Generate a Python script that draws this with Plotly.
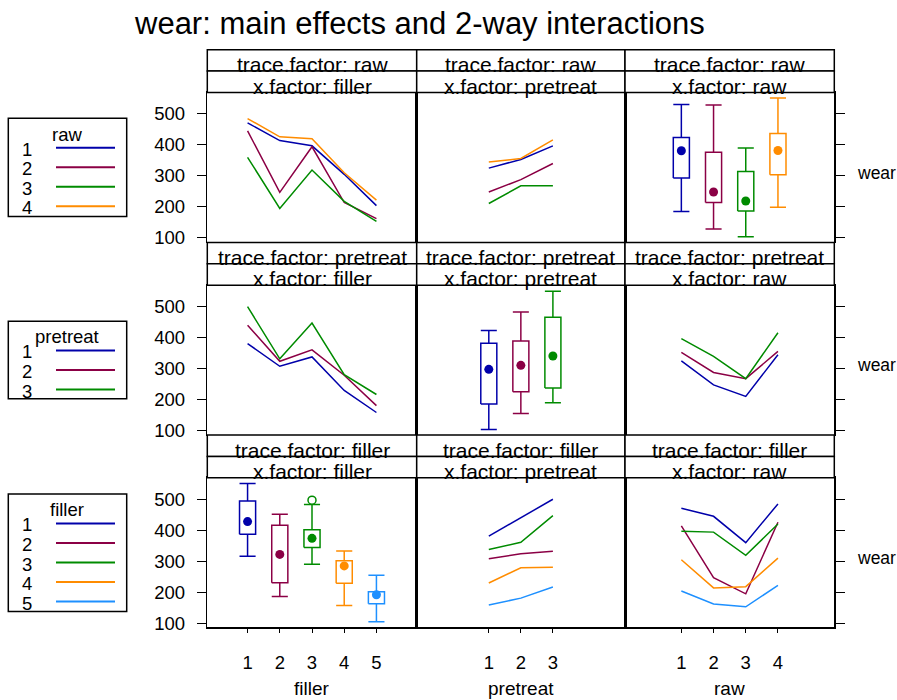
import plotly.graph_objects as go

W, H = 897, 700
FONT = "Liberation Sans, Arial, sans-serif"

# ---------------- data ----------------
title_text = "wear: main effects and 2-way interactions"
response = "wear"
row_factors = ["raw", "pretreat", "filler"]      # trace factor per row
col_factors = ["filler", "pretreat", "raw"]      # x factor per column
filler_levels = ["1", "2", "3", "4", "5"]
pretreat_levels = ["1", "2", "3"]
raw_levels = ["1", "2", "3", "4"]

level_colors = ["#0000AA", "#8B0045", "#008B00", "#FF8C00", "#1E90FF"]

# two-way cell means (rows = first factor levels, cols = second factor levels)
raw_by_filler = [
    [471, 414, 397, 305, 204],
    [445, 247, 394, 214, 162],
    [360, 195, 319, 218, 153],
    [485, 426, 420, 310, 222],
]
raw_by_pretreat = [
    [325, 353, 397],
    [248, 288, 340],
    [211, 268, 268],
    [345, 356, 416],
]
pretreat_by_filler = [
    [381, 308, 338, 230, 159],
    [440, 324, 361, 279, 181],
    [500, 332, 447, 281, 217],
]

# box plot statistics (main effects)
raw_whisker_lo = [185, 129, 104, 199]
raw_q1 = [293, 214, 187, 304]
raw_median = [381, 248, 219, 382]
raw_q3 = [424, 376, 314, 437]
raw_whisker_hi = [530, 529, 390, 551]

pretreat_whisker_lo = [104, 156, 190]
pretreat_q1 = [186, 226, 238]
pretreat_median = [298, 311, 341]
pretreat_q3 = [382, 389, 466]
pretreat_whisker_hi = [423, 483, 550]

filler_whisker_lo = [316, 186, 290, 157, 105]
filler_q1 = [387, 231, 344, 229, 163]
filler_median = [428, 322, 374, 285, 192]
filler_q3 = [494, 416, 402, 302, 202]
filler_whisker_hi = [551, 452, 483, 333, 255]
filler_outlier_level = [3]
filler_outlier_value = [497]

y_ticks = [100, 200, 300, 400, 500]

# ---------------- helpers ----------------
levels = {"filler": filler_levels, "pretreat": pretreat_levels, "raw": raw_levels}
tables = {
    ("raw", "filler"): raw_by_filler,
    ("raw", "pretreat"): raw_by_pretreat,
    ("pretreat", "filler"): pretreat_by_filler,
}
boxstats = {
    "raw": (raw_whisker_lo, raw_q1, raw_median, raw_q3, raw_whisker_hi),
    "pretreat": (pretreat_whisker_lo, pretreat_q1, pretreat_median, pretreat_q3, pretreat_whisker_hi),
    "filler": (filler_whisker_lo, filler_q1, filler_median, filler_q3, filler_whisker_hi),
}


def table_for(trace_f, x_f):
    if (trace_f, x_f) in tables:
        return tables[(trace_f, x_f)]
    t = tables[(x_f, trace_f)]
    return [list(col) for col in zip(*t)]


# geometry (pixels)
col_px = [(207.3, 416.7), (416.7, 625.0), (625.0, 834.3)]
row_px = [(93.3, 244.0), (287.7, 438.6), (482.0, 632.7)]
strip_h = 21.6
y_range = [87, 569]
half_span = 3.25
box_hw = 0.25


def px_x(p):
    return p / W


def px_y(p):
    return 1 - p / H


fig = go.Figure()
layout = dict(
    width=W, height=H, autosize=False,
    margin=dict(l=0, r=0, t=0, b=0),
    paper_bgcolor="white", plot_bgcolor="white",
    showlegend=False,
    font=dict(family=FONT, color="black"),
)
shapes = []
annotations = []

for r, tf in enumerate(row_factors):
    for c, xf in enumerate(col_factors):
        k = r * 3 + c + 1
        xs = "" if k == 1 else str(k)
        xref, yref = "x" + xs, "y" + xs
        n = len(levels[xf])
        ctr = (n + 1) / 2
        xpos = list(range(1, n + 1))

        if tf == xf:
            lo, q1, med, q3, hi = boxstats[xf]
            for i in range(n):
                col = level_colors[i]
                x = xpos[i]
                bx = [x - box_hw, x + box_hw, x + box_hw, x - box_hw, x - box_hw, None,
                      x, x, None, x, x, None,
                      x - box_hw, x + box_hw, None, x - box_hw, x + box_hw]
                by = [q1[i], q1[i], q3[i], q3[i], q1[i], None,
                      q3[i], hi[i], None, q1[i], lo[i], None,
                      hi[i], hi[i], None, lo[i], lo[i]]
                fig.add_trace(go.Scatter(x=bx, y=by, mode="lines", xaxis=xref, yaxis=yref,
                                         line=dict(color=col, width=1.5), hoverinfo="skip"))
                fig.add_trace(go.Scatter(x=[x], y=[med[i]], mode="markers", xaxis=xref, yaxis=yref,
                                         marker=dict(color=col, size=9), hoverinfo="skip"))
            if xf == "filler":
                for lv, v in zip(filler_outlier_level, filler_outlier_value):
                    fig.add_trace(go.Scatter(
                        x=[lv], y=[v], mode="markers", xaxis=xref, yaxis=yref,
                        marker=dict(color="white", size=8, symbol="circle",
                                    line=dict(color=level_colors[lv - 1], width=1.5)),
                        hoverinfo="skip"))
        else:
            tab = table_for(tf, xf)
            for i, row in enumerate(tab):
                fig.add_trace(go.Scatter(x=xpos, y=row, mode="lines", xaxis=xref, yaxis=yref,
                                         line=dict(color=level_colors[i], width=1.5),
                                         hoverinfo="skip"))

        x0, x1 = col_px[c]
        y0, y1 = row_px[r]
        xa = dict(domain=[px_x(x0), px_x(x1)], range=[ctr - half_span, ctr + half_span],
                  anchor=yref, showgrid=False, zeroline=False, showline=True,
                  linecolor="black", linewidth=1.5, mirror=True, fixedrange=True)
        if r == 2:
            xa.update(ticks="outside", ticklen=4, tickwidth=1, tickcolor="black",
                      tickvals=xpos, ticktext=levels[xf],
                      tickfont=dict(size=18.5, family=FONT, color="black"),
                      ticklabelstandoff=14)
        else:
            xa.update(ticks="", showticklabels=False)
        ya = dict(domain=[px_y(y1), px_y(y0)], range=y_range, anchor=xref,
                  showgrid=False, zeroline=False, showline=True,
                  linecolor="black", linewidth=1.5, mirror=True, fixedrange=True,
                  tickvals=y_ticks)
        if c == 0:
            ya.update(ticks="outside", ticklen=9, tickwidth=1, tickcolor="black",
                      tickfont=dict(size=18.5, family=FONT, color="black"),
                      ticklabelstandoff=8)
        elif c == 2:
            ya.update(side="right", ticks="outside", ticklen=9, tickwidth=1,
                      tickcolor="black", showticklabels=False)
        else:
            ya.update(ticks="", showticklabels=False)
        layout["xaxis" + xs] = xa
        layout["yaxis" + xs] = ya

        # strips
        st_top = y0 - 2 * strip_h
        for s, txt in enumerate([f"trace.factor: {tf}", f"x.factor: {xf}"]):
            sy0 = st_top + s * strip_h
            sy1 = sy0 + strip_h
            shapes.append(dict(type="rect", xref="paper", yref="paper",
                               x0=px_x(x0), x1=px_x(x1), y0=px_y(sy1), y1=px_y(sy0),
                               line=dict(color="black", width=1.5), fillcolor="white",
                               layer="above"))
            annotations.append(dict(xref="paper", yref="paper", x=px_x((x0 + x1) / 2),
                                    y=px_y(sy1 - 6.5), xanchor="center", yanchor="middle",
                                    text=txt, showarrow=False,
                                    font=dict(size=21, family=FONT, color="black")))

    # response label on right
    y0, y1 = row_px[r]
    annotations.append(dict(xref="paper", yref="paper", x=px_x(855), y=px_y((y0 + y1) / 2 + 5.5),
                            xanchor="left", yanchor="middle", text=response, showarrow=False,
                            font=dict(size=17.5, family=FONT, color="black")))

# x axis titles
for c, xf in enumerate(col_factors):
    x0, x1 = col_px[c]
    annotations.append(dict(xref="paper", yref="paper", x=px_x((x0 + x1) / 2), y=px_y(694),
                            xanchor="center", yanchor="middle", text=xf, showarrow=False,
                            font=dict(size=19, family=FONT, color="black")))

# title
annotations.append(dict(xref="paper", yref="paper", x=px_x(419), y=px_y(23.5),
                        xanchor="center", yanchor="middle", text=title_text, showarrow=False,
                        font=dict(size=31, family=FONT, color="black")))

# keys (one per trace factor)
key_boxes = {"raw": (119.3, 218.3, 136.0, 150.5),
             "pretreat": (324.0, 402.3, 339.7, 355.0),
             "filler": (498.3, 616.7, 514.3, 529.5)}
key_step = 19.7
for f in row_factors:
    by0, by1, ty, iy = key_boxes[f]
    shapes.append(dict(type="rect", xref="paper", yref="paper",
                       x0=px_x(8.3), x1=px_x(126.7), y0=px_y(by1), y1=px_y(by0),
                       line=dict(color="black", width=1.5), fillcolor="rgba(0,0,0,0)"))
    annotations.append(dict(xref="paper", yref="paper", x=px_x(67), y=px_y(ty),
                            xanchor="center", yanchor="middle", text=f, showarrow=False,
                            font=dict(size=18.5, family=FONT, color="black")))
    for i, lv in enumerate(levels[f]):
        yy = iy + i * key_step
        annotations.append(dict(xref="paper", yref="paper", x=px_x(20), y=px_y(yy),
                                xanchor="left", yanchor="middle", text=lv, showarrow=False,
                                font=dict(size=18.5, family=FONT, color="black")))
        shapes.append(dict(type="line", xref="paper", yref="paper",
                           x0=px_x(56), x1=px_x(115), y0=px_y(yy - 1.5), y1=px_y(yy - 1.5),
                           line=dict(color=level_colors[i], width=2)))

layout["shapes"] = shapes
layout["annotations"] = annotations
fig.update_layout(**layout)
fig.write_html("out.html",
               config={"displayModeBar": False, "staticPlot": True},
               post_script="document.body.style.margin='0';document.body.style.overflow='hidden';")
